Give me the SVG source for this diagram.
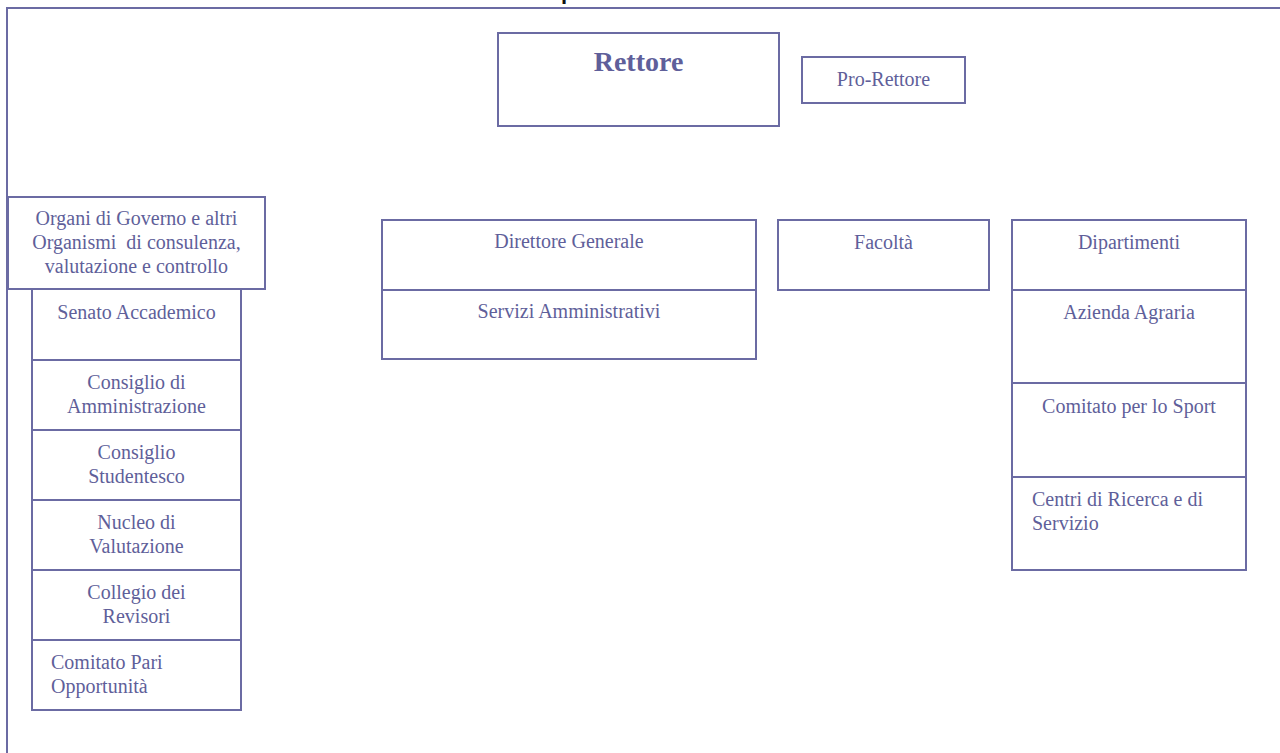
<svg xmlns="http://www.w3.org/2000/svg" width="1280" height="753" viewBox="0 0 1280 753">
<style>
.b{fill:#ffffff;stroke:#6b6ba3;stroke-width:2}
.l{stroke:#6b6ba3;stroke-width:2;fill:none}
.t{font-family:"Liberation Serif","Times New Roman",serif;font-size:20px;fill:#5f5f9a;text-anchor:middle;white-space:pre}
.tl{text-anchor:start}
.bold{font-weight:bold;font-size:28px}
</style>
<rect width="1280" height="753" fill="#ffffff"/>
<text x="561" y="-1" font-family="Liberation Sans, Arial, sans-serif" font-weight="bold" font-size="22" fill="#111111">p</text>
<g id="frame">
<line class="l" x1="6" y1="8" x2="1280" y2="8"/>
<line class="l" x1="7" y1="7" x2="7" y2="753"/>
</g>
<g id="rettore">
<rect class="b" x="498" y="33" width="281" height="93"/>
<text class="t bold" x="638.5" y="71">Rettore</text>
</g>
<g id="pro-rettore">
<rect class="b" x="802" y="57" width="163" height="46"/>
<text class="t" x="883.5" y="86">Pro-Rettore</text>
</g>
<g id="organi">
<rect class="b" x="8" y="197" width="257" height="92"/>
<text class="t" x="136.5" y="225">Organi di Governo e altri</text>
<text class="t" x="136.5" y="249">Organismi  di consulenza,</text>
<text class="t" x="136.5" y="273">valutazione e controllo</text>
</g>
<g id="senato">
<rect class="b" x="32" y="289" width="209" height="71"/>
<text class="t" x="136.5" y="319">Senato Accademico</text>
</g>
<g id="cda">
<rect class="b" x="32" y="360" width="209" height="70"/>
<text class="t" x="136.5" y="389">Consiglio di</text>
<text class="t" x="136.5" y="413">Amministrazione</text>
</g>
<g id="consiglio-studentesco">
<rect class="b" x="32" y="430" width="209" height="70"/>
<text class="t" x="136.5" y="459">Consiglio</text>
<text class="t" x="136.5" y="483">Studentesco</text>
</g>
<g id="nucleo">
<rect class="b" x="32" y="500" width="209" height="70"/>
<text class="t" x="136.5" y="529">Nucleo di</text>
<text class="t" x="136.5" y="553">Valutazione</text>
</g>
<g id="collegio">
<rect class="b" x="32" y="570" width="209" height="70"/>
<text class="t" x="136.5" y="599">Collegio dei</text>
<text class="t" x="136.5" y="623">Revisori</text>
</g>
<g id="comitato-pari">
<rect class="b" x="32" y="640" width="209" height="70"/>
<text class="t tl" x="51" y="669">Comitato Pari</text>
<text class="t tl" x="51" y="693">Opportunità</text>
</g>
<g id="direttore">
<rect class="b" x="382" y="220" width="374" height="70"/>
<text class="t" x="569" y="248">Direttore Generale</text>
</g>
<g id="servizi">
<rect class="b" x="382" y="290" width="374" height="69"/>
<text class="t" x="569" y="318">Servizi Amministrativi</text>
</g>
<g id="facolta">
<rect class="b" x="778" y="220" width="211" height="70"/>
<text class="t" x="883.5" y="249">Facoltà</text>
</g>
<g id="dipartimenti">
<rect class="b" x="1012" y="220" width="234" height="70"/>
<text class="t" x="1129" y="249">Dipartimenti</text>
</g>
<g id="azienda">
<rect class="b" x="1012" y="290" width="234" height="93"/>
<text class="t" x="1129" y="319">Azienda Agraria</text>
</g>
<g id="sport">
<rect class="b" x="1012" y="383" width="234" height="94"/>
<text class="t" x="1129" y="413">Comitato per lo Sport</text>
</g>
<g id="centri">
<rect class="b" x="1012" y="477" width="234" height="93"/>
<text class="t tl" x="1032" y="506">Centri di Ricerca e di</text>
<text class="t tl" x="1032" y="530">Servizio</text>
</g>
</svg>
